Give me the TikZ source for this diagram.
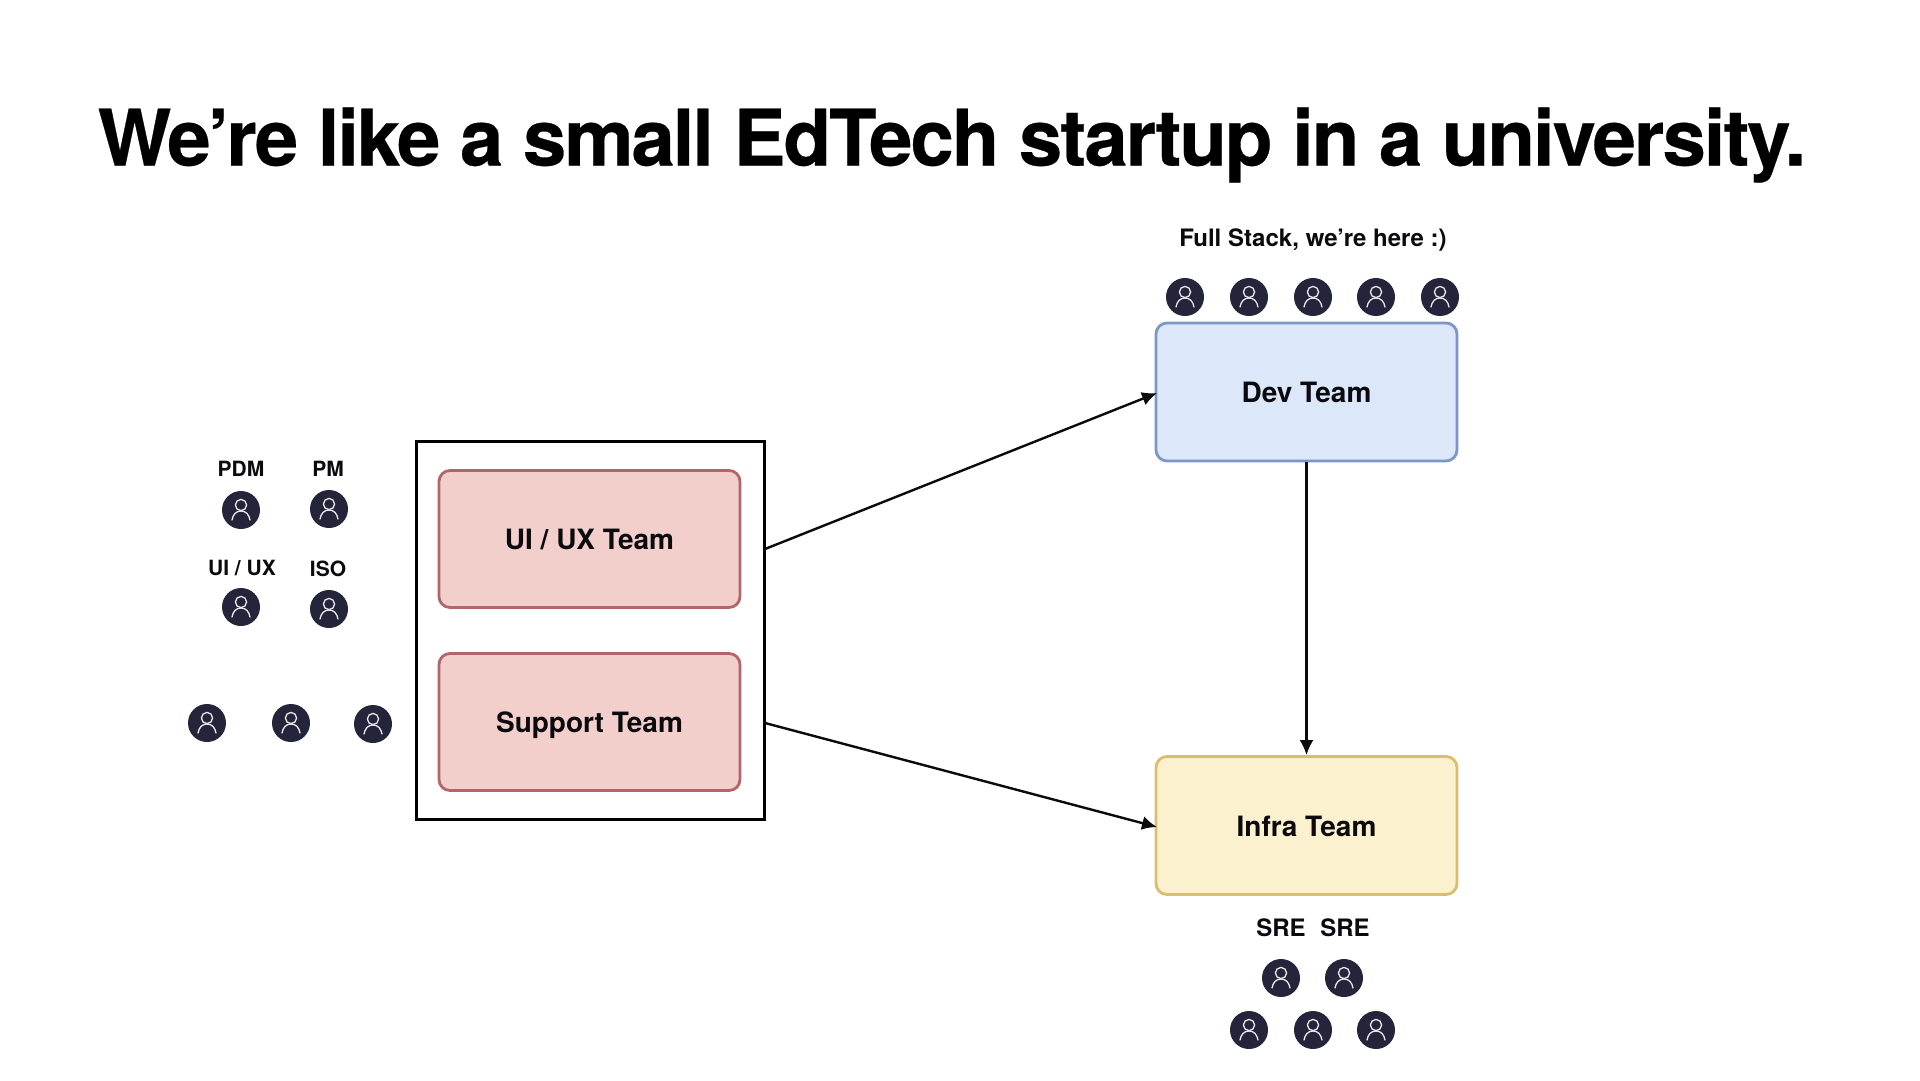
\documentclass[tikz,border=0pt]{standalone}
\usepackage{fontspec}
\setmainfont{TeX Gyre Heros}
\newfontfamily\titlefont[LetterSpace=-2.7,BoldFeatures={FakeBold=0.35,LetterSpace=-2.7}]{TeX Gyre Heros}
\usetikzlibrary{arrows.meta}
\definecolor{ink}{HTML}{0A0A0F}
\definecolor{iconc}{HTML}{24243A}
\definecolor{redf}{HTML}{F3CFCC}
\definecolor{redl}{HTML}{B2666A}
\definecolor{bluef}{HTML}{DCE7F9}
\definecolor{bluel}{HTML}{7E97C4}
\definecolor{yelf}{HTML}{FCF1CE}
\definecolor{yell}{HTML}{D9BE72}
\tikzset{
  person/.style={circle,fill=iconc,minimum size=38,inner sep=0,path picture={
    \begin{scope}[shift={(path picture bounding box.center)}]
    \draw[white!90!iconc,line width=1.3] (0,-5) circle (5.6);
    \draw[white!90!iconc,line width=1.3,line cap=round] (-9,10)
      .. controls (-8,4.5) and (-5,1) .. (0,1) .. controls (5,1) and (8,4.5) .. (9,10);
    \end{scope}
  }},
  team/.style={draw,rounded corners=11,line width=2.8,text=ink,font=\fontsize{28}{34}\selectfont\bfseries,inner sep=0,text height=20,text depth=0},
  redteam/.style={team,fill=redf,draw=redl,minimum width=301,minimum height=137},
  devteam/.style={team,fill=bluef,draw=bluel,minimum width=301,minimum height=138},
  infrateam/.style={team,fill=yelf,draw=yell,minimum width=301,minimum height=138,text height=21.5},
  lab/.style={text=ink,font=\fontsize{21}{25}\selectfont\bfseries,inner sep=0},
  conn/.style={draw=ink,line width=2.4,-{Latex[length=15,width=14]},shorten >=0},
}
\begin{document}
\begin{tikzpicture}[x=1pt,y=-1pt]
\useasboundingbox[fill=white] (0,0) rectangle (1920,1080);
\node[text=black,font=\titlefont\fontsize{78}{90}\selectfont\bfseries,inner sep=0] (title) at (952,145) {We’re like a small EdTech startup in a university.};

\node[draw=black,line width=3,fill=white,minimum width=348,minimum height=378,inner sep=0] (outer) at (590,630) {};
\node[redteam] (ui) at (589.5,539) {UI / UX Team};
\node[redteam] (support) at (589.5,722) {Support Team};
\node[devteam] (dev) at (1306.5,392) {Dev Team};
\node[infrateam] (infra) at (1306.5,825.5) {Infra Team};

\coordinate (outA) at (765,549);
\coordinate (outB) at (765,723);
\coordinate (devIn) at (1157,393);
\coordinate (infIn) at (1157,827);
\draw[conn] (outA) -- (devIn);
\draw[conn] (outB) -- (infIn);
\draw[conn] (dev.south) -- (infra.north);

\node[lab,font=\fontsize{24}{28}\selectfont\bfseries] (lfs) at (1313,240) {Full Stack, we’re here :)};
\node[person] (f1) at (1185,297) {};
\node[person] (f2) at (1249,297) {};
\node[person] (f3) at (1313,297) {};
\node[person] (f4) at (1376,297) {};
\node[person] (f5) at (1440,297) {};

\node[lab] (lpdm) at (241,469) {PDM};
\node[lab] (lpm) at (328,468.5) {PM};
\node[lab] (lux) at (242,567.5) {UI / UX};
\node[lab] (liso) at (328,569) {ISO};
\node[person] (p1) at (241,510) {};
\node[person] (p2) at (329,509) {};
\node[person] (p3) at (241,607) {};
\node[person] (p4) at (329,609) {};
\node[person] (s1) at (207,723) {};
\node[person] (s2) at (291,723) {};
\node[person] (s3) at (373,724) {};

\node[lab,font=\fontsize{24}{28}\selectfont\bfseries] (lsre1) at (1281,928) {SRE};
\node[lab,font=\fontsize{24}{28}\selectfont\bfseries] (lsre2) at (1345,928) {SRE};
\node[person] (i1) at (1281,978) {};
\node[person] (i2) at (1344,978) {};
\node[person] (i3) at (1249,1030) {};
\node[person] (i4) at (1313,1030) {};
\node[person] (i5) at (1376,1030) {};
\end{tikzpicture}
\end{document}
